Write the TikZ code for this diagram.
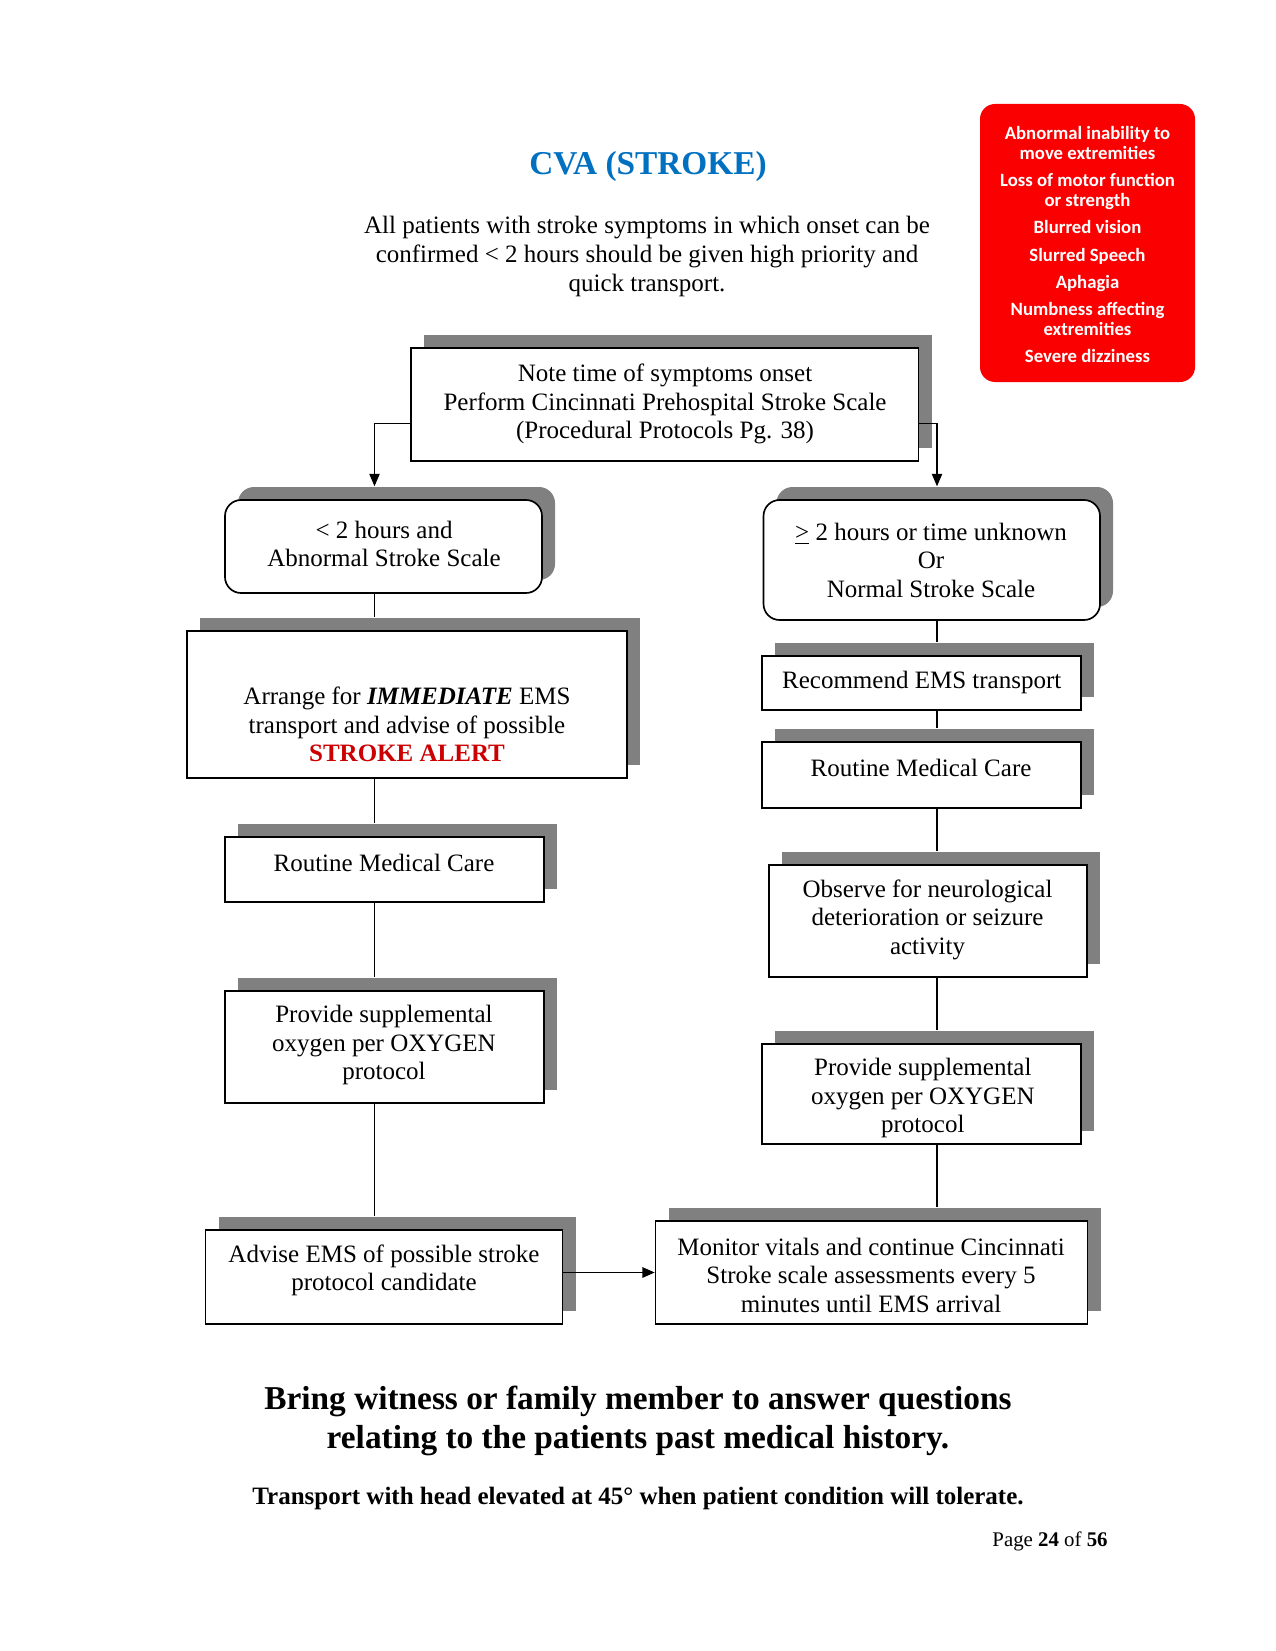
\documentclass[tikz,border=0pt]{standalone}
\usepackage{fontspec}
\setmainfont{Liberation Serif}
\newfontfamily\calfont{Carlito}
\usetikzlibrary{shadows,arrows.meta}
\definecolor{shgray}{RGB}{128,128,128}
\definecolor{titleblue}{RGB}{0,112,192}
\definecolor{alertred}{RGB}{204,0,0}
\definecolor{boxred}{RGB}{250,0,0}
\begin{document}
\begin{tikzpicture}[x=0.48pt,y=-0.48pt,
  bx/.style={draw, line width=0.8pt, fill=white, inner sep=0pt,
    general shadow={fill=shgray, shadow xshift=6.24pt, shadow yshift=6.24pt}},
  rbx/.style={bx, rounded corners=7.7pt},
  txt/.style={align=center, inner sep=0pt, font=\fontsize{12}{13.7}\selectfont},
  conn/.style={draw, line width=0.5pt},
  connb/.style={draw, line width=0.9pt},
  arrow/.style={-{Triangle[length=6pt,width=5pt]}}
]
\useasboundingbox (0,0) rectangle (1275,1651);
\fill[white] (0,0) rectangle (1275,1651);

% title and intro
\node[inner sep=0pt, font=\fontsize{16}{19}\selectfont\bfseries, text=titleblue] (title) at (648,166) {CVA (STROKE)};
\node[txt, font=\fontsize{12}{13.8}\selectfont] (intro) at (647,256.5) {All patients with stroke symptoms in which onset can be\\confirmed < 2 hours should be given high priority and\\quick transport.};

% red symptom box
\node[draw=none, fill=boxred, rounded corners=7.2pt, minimum width=103.2pt, minimum height=133.44pt, inner sep=0pt] (sym) at (1087.5,243) {};
\node[align=center, inner sep=0pt, text=white, font=\calfont\bfseries\fontsize{9}{9.6}\selectfont] (symtxt) at (1087.5,244.5)
  {Abnormal inability to\\move extremities\\[3.4pt]Loss of motor function\\or strength\\[3.4pt]Blurred vision\\[3.4pt]Slurred Speech\\[3.4pt]Aphagia\\[3.4pt]Numbness affecting\\extremities\\[3.4pt]Severe dizziness};

% boxes
\node[bx, minimum width=243.6pt, minimum height=54.24pt] (top) at (664.75,404.5) {};
\node[rbx, minimum width=152.16pt, minimum height=44.64pt] (lrb) at (383.5,546.5) {};
\node[rbx, minimum width=161.52pt, minimum height=57.6pt] (rrb) at (931.75,560) {};
\node[bx, minimum width=211.2pt, minimum height=70.56pt] (arr) at (407,704.5) {};
\node[bx, minimum width=153.12pt, minimum height=31.2pt] (lrc) at (384.5,869.5) {};
\node[bx, minimum width=153.12pt, minimum height=54pt] (lpr) at (384.5,1047) {};
\node[bx, minimum width=171.36pt, minimum height=45.12pt] (adv) at (384,1277) {};
\node[bx, minimum width=153.12pt, minimum height=25.92pt] (rec) at (921.5,683) {};
\node[bx, minimum width=153.12pt, minimum height=31.68pt] (rrc) at (921.5,775) {};
\node[bx, minimum width=152.64pt, minimum height=54pt] (obs) at (928,921) {};
\node[bx, minimum width=153.12pt, minimum height=48pt] (rpr) at (921.5,1094) {};
\node[bx, minimum width=207.36pt, minimum height=49.44pt] (mon) at (871.6,1272.5) {};

% box texts
\node[txt] (toptxt) at (665,404) {Note time of symptoms onset\\Perform Cincinnati Prehospital Stroke Scale\\(Procedural Protocols Pg. 38)};
\node[txt] (lrbtxt) at (384,544) {< 2 hours and\\Abnormal Stroke Scale};
\node[txt] (rrbtxt) at (931,560) {\underline{>} 2 hours or time unknown\\Or\\Normal Stroke Scale};
\node[txt] (arrtxt) at (407,724.5) {Arrange for \textbf{\textit{IMMEDIATE}} EMS\\transport and advise of possible\\\textcolor{alertred}{\textbf{STROKE ALERT}}};
\node[txt] (lrctxt) at (384,863) {Routine Medical Care};
\node[txt] (lprtxt) at (384,1045) {Provide supplemental\\oxygen per OXYGEN\\protocol};
\node[txt] (advtxt) at (384,1270.5) {Advise EMS of possible stroke\\protocol candidate};
\node[txt] (rectxt) at (921.7,682.6) {Recommend EMS transport};
\node[txt] (rrctxt) at (921,768) {Routine Medical Care};
\node[txt] (obstxt) at (927.5,919.7) {Observe for neurological\\deterioration or seizure\\activity};
\node[txt] (rprtxt) at (922.8,1098) {Provide supplemental\\oxygen per OXYGEN\\protocol};
\node[txt] (montxt) at (871,1275) {Monitor vitals and continue Cincinnati\\Stroke scale assessments every 5\\minutes until EMS arrival};

% connector columns
\coordinate (lx) at (374.5,0);
\coordinate (rx) at (937,0);

% arrows from top box
\draw[conn, arrow, shorten >=6.2pt] ([yshift=-8.9pt]top.west) -| (lx |- lrb.north);
\draw[conn, arrow, shorten >=6.2pt] ([yshift=-8.9pt]top.east) -| (rx |- rrb.north);

% left column
\draw[conn, shorten >=6.2pt] (lx |- lrb.south) -- (lx |- arr.north);
\draw[connb, shorten >=6.2pt] (lx |- arr.south) -- (lx |- lrc.north);
\draw[connb, shorten >=6.2pt] (lx |- lrc.south) -- (lx |- lpr.north);
\draw[connb, shorten >=6.2pt] (lx |- lpr.south) -- (lx |- adv.north);

% right column
\draw[conn, shorten >=6.2pt] (rx |- rrb.south) -- (rx |- rec.north);
\draw[conn, shorten >=6.2pt] (rx |- rec.south) -- (rx |- rrc.north);
\draw[conn, shorten >=6.2pt] (rx |- rrc.south) -- (rx |- obs.north);
\draw[conn, shorten >=6.2pt] (rx |- obs.south) -- (rx |- rpr.north);
\draw[conn, shorten >=6.2pt] (rx |- rpr.south) -- (rx |- mon.north);

% advise -> monitor
\draw[connb, arrow] (adv.east |- mon.west) -- (mon.west);

% bottom notes
\node[align=center, inner sep=0pt, font=\fontsize{16}{18.7}\selectfont\bfseries] (bring) at (638,1420.5) {Bring witness or family member to answer questions\\relating to the patients past medical history.};
\node[inner sep=0pt, font=\fontsize{12}{14}\selectfont\bfseries] (trans) at (638,1498) {Transport with head elevated at 45° when patient condition will tolerate.};
\node[inner sep=0pt, font=\fontsize{10}{12}\selectfont] (page) at (1050,1541) {Page \textbf{24} of \textbf{56}};
\end{tikzpicture}
\end{document}
